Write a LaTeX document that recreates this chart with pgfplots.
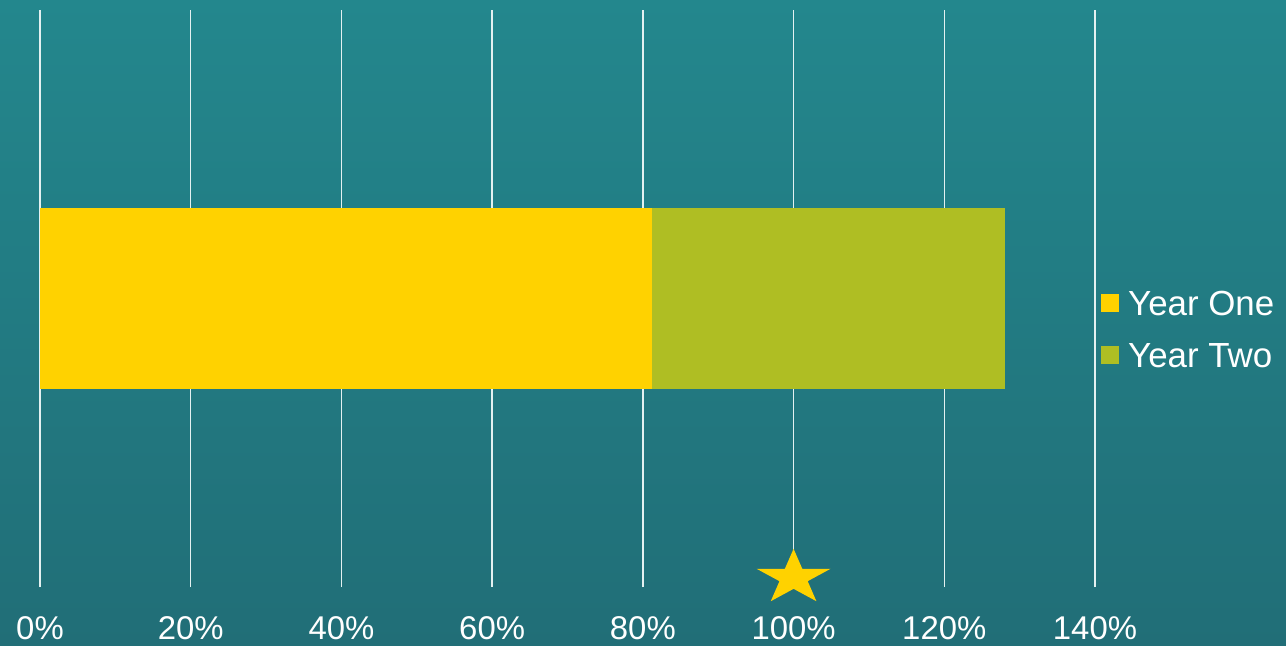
\documentclass[border=0pt]{standalone}
\usepackage{pgfplots}
\pgfplotsset{compat=1.18}
\usepackage{fontspec}
\setmainfont{Liberation Sans}
\definecolor{yone}{HTML}{FFD200}
\definecolor{ytwo}{HTML}{AFBE23}
\definecolor{bgtop}{HTML}{23878D}
\definecolor{bgbot}{HTML}{216E77}
\newdimen\starin
\pgfdeclareplotmark{fstar}{%
  \pgftransformxscale{1.34}%
  \starin=0.382\pgfplotmarksize
  \pgfpathmoveto{\pgfpointpolar{90}{\pgfplotmarksize}}%
  \pgfpathlineto{\pgfpointpolar{126}{\starin}}%
  \pgfpathlineto{\pgfpointpolar{162}{\pgfplotmarksize}}%
  \pgfpathlineto{\pgfpointpolar{198}{\starin}}%
  \pgfpathlineto{\pgfpointpolar{234}{\pgfplotmarksize}}%
  \pgfpathlineto{\pgfpointpolar{270}{\starin}}%
  \pgfpathlineto{\pgfpointpolar{306}{\pgfplotmarksize}}%
  \pgfpathlineto{\pgfpointpolar{342}{\starin}}%
  \pgfpathlineto{\pgfpointpolar{18}{\pgfplotmarksize}}%
  \pgfpathlineto{\pgfpointpolar{54}{\starin}}%
  \pgfpathclose
  \pgfusepathqfill}
\begin{document}
\begin{tikzpicture}
\shade[top color=bgtop, bottom color=bgbot] (0,0) rectangle (1286bp,646bp);
\useasboundingbox (0,0) rectangle (1286bp,646bp);
\begin{axis}[
  at={(40bp,59bp)}, anchor=south west,
  scale only axis, width=1055bp, height=577bp,
  xmin=0, xmax=140, ymin=0, ymax=1,
  axis line style={draw=none},
  xtick={0,20,...,140},
  xticklabels={0\%,20\%,40\%,60\%,80\%,100\%,120\%,140\%},
  ytick=\empty,
  major tick length=0pt,
  xmajorgrids,
  major grid style={white!88!bgtop, line width=1.3bp},
  xticklabel style={font=\fontsize{33}{40}\selectfont, text=white, anchor=base, yshift=-52bp},
  xbar stacked, bar width=0.312,
  legend style={at={(1.0057,0.4403)}, anchor=west, draw=none, fill=none,
    text=white, font=\fontsize{35}{42}\selectfont, inner sep=0pt,
    nodes={inner sep=0pt, text height=24bp, text depth=7bp},
    row sep=21bp,
    /tikz/every odd column/.append style={column sep=9bp}},
  legend cell align=left,
  legend image code/.code={\fill[#1,draw=none] (0bp,-5bp) rectangle (18bp,13bp);},
  clip=false,
]
\addplot[fill=yone, draw=none] coordinates {(81.2,0.5)};
\addlegendentry{Year One}
\addplot[fill=ytwo, draw=none] coordinates {(46.8,0.5)};
\addlegendentry{Year Two}
\end{axis}
\begin{axis}[
  at={(40bp,59bp)}, anchor=south west,
  scale only axis, width=1055bp, height=577bp,
  xmin=0, xmax=140, ymin=0, ymax=1,
  hide axis, clip=false,
]
\addplot[only marks, mark=fstar, mark size=29bp, color=yone] coordinates {(100,0.016)};
\end{axis}
\end{tikzpicture}
\end{document}
